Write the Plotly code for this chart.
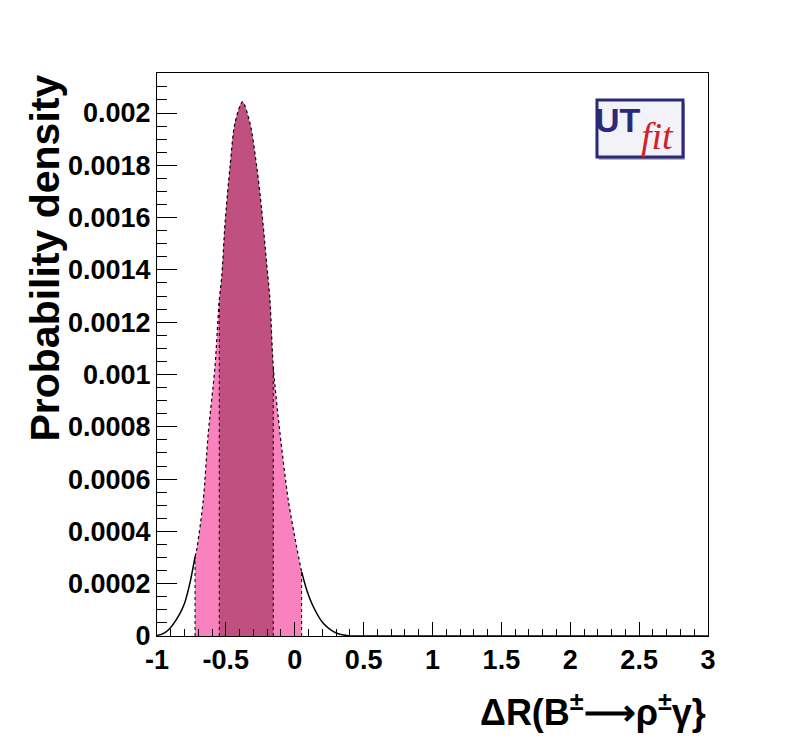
import numpy as np
import plotly.graph_objects as go

# Probability density
x_vals = [-1.0, -0.96, -0.918, -0.84, -0.80, -0.76, -0.724, -0.712, -0.664, -0.628, -0.579,
          -0.548, -0.530, -0.506, -0.470, -0.434, -0.379, -0.325, -0.276, -0.240, -0.204,
          -0.180, -0.156, -0.107, -0.047, 0.014, 0.050, 0.087, 0.135, 0.207, 0.305, 0.401, 3.0]
y_vals = [0.000002, 0.000008, 0.0000229, 0.00008, 0.000125, 0.000205, 0.000303, 0.000329, 0.00052, 0.000775, 0.00103,
          0.001285, 0.001374, 0.001579, 0.001795, 0.001962, 0.002043, 0.001961, 0.001795, 0.001629, 0.001425,
          0.001285, 0.00103, 0.000775, 0.00052, 0.00034, 0.000245, 0.000176, 0.000112, 0.0000486, 0.0000103, 0.0, 0.0]

interval_95 = [-0.724, 0.050]
interval_68 = [-0.548, -0.156]

x_tickvals = [-1, -0.5, 0, 0.5, 1, 1.5, 2, 2.5, 3]
x_ticktext = ["-1", "-0.5", "0", "0.5", "1", "1.5", "2", "2.5", "3"]
y_tickvals = [0, 0.0002, 0.0004, 0.0006, 0.0008, 0.001, 0.0012, 0.0014, 0.0016, 0.0018, 0.002]
y_ticktext = ["0", "0.0002", "0.0004", "0.0006", "0.0008", "0.001", "0.0012", "0.0014", "0.0016", "0.0018", "0.002"]

LIGHT = "#f882bd"
DARK = "#c0507f"

xa = np.array(x_vals)
ya = np.array(y_vals)


def subset(lo, hi):
    m = (xa >= lo - 1e-9) & (xa <= hi + 1e-9)
    return xa[m], ya[m]


fig = go.Figure()

# filled bands
for (lo, hi), col in [(interval_95, LIGHT), (interval_68, DARK)]:
    sx, sy = subset(lo, hi)
    fig.add_trace(go.Scatter(x=sx, y=sy, mode="lines", line=dict(width=0, shape="spline", smoothing=0.8),
                             fill="tozeroy", fillcolor=col, hoverinfo="skip", showlegend=False))

# dotted outline of the band
sx, sy = subset(*interval_95)
fig.add_trace(go.Scatter(x=sx, y=sy, mode="lines",
                         line=dict(color="black", width=1.2, dash="dot", shape="spline", smoothing=0.8),
                         showlegend=False))
for b in interval_95 + interval_68:
    yb = ya[np.argmin(np.abs(xa - b))]
    fig.add_trace(go.Scatter(x=[b, b], y=[0, yb], mode="lines",
                             line=dict(color="black", width=1, dash="dot"), showlegend=False))

# solid curve outside the 95% band
lx, ly = subset(-1.0, interval_95[0])
fig.add_trace(go.Scatter(x=lx, y=ly, mode="lines",
                         line=dict(color="black", width=1.5, shape="spline", smoothing=0.8), showlegend=False))
rx, ry = subset(interval_95[1], 0.401)
fig.add_trace(go.Scatter(x=rx, y=ry, mode="lines",
                         line=dict(color="black", width=1.5, shape="spline", smoothing=0.8), showlegend=False))
tx, ty = subset(0.401, 3.0)
fig.add_trace(go.Scatter(x=tx, y=ty, mode="lines", line=dict(color="black", width=1.5), showlegend=False))

FONT = "Liberation Sans, Arial, sans-serif"

fig.update_layout(
    width=780, height=741,
    margin=dict(l=149, r=80, t=65, b=113),
    paper_bgcolor="white", plot_bgcolor="white",
    xaxis=dict(range=[-1, 3], tickvals=x_tickvals, ticktext=x_ticktext,
               ticks="inside", ticklen=14, tickwidth=1, tickcolor="black",
               minor=dict(dtick=0.1, ticks="inside", ticklen=7, tickcolor="black", tickwidth=1),
               showgrid=False, zeroline=False, showline=True, linecolor="black", linewidth=1, mirror=True,
               tickfont=dict(family=FONT, size=27, color="black", weight="bold")),
    yaxis=dict(range=[0, 0.002153], tickvals=y_tickvals, ticktext=y_ticktext,
               ticks="inside", ticklen=20, tickwidth=1, tickcolor="black",
               minor=dict(dtick=0.00005, ticks="inside", ticklen=10, tickcolor="black", tickwidth=1),
               showgrid=False, zeroline=False, showline=True, linecolor="black", linewidth=1, mirror=True,
               tickfont=dict(family=FONT, size=27, color="black", weight="bold")),
)

# axis titles
fig.add_annotation(xref="paper", yref="paper", x=-0.205, y=1.0, xanchor="center", yanchor="top",
                   textangle=-90, showarrow=False,
                   text="Probability density",
                   font=dict(family=FONT, size=41, color="black", weight="bold"))
fig.add_annotation(xref="paper", yref="paper", x=1.0, y=-0.132, xanchor="right", yanchor="middle",
                   showarrow=False,
                   text="ΔR(B<sup>±</sup>⟶ρ<sup>±</sup>γ}",
                   font=dict(family=FONT, size=36, color="black", weight="bold"))

# UTfit logo
fig.add_shape(type="rect", xref="paper", yref="paper", x0=0.802, x1=0.958, y0=0.846, y1=0.947,
              fillcolor="#9a9ab0", line=dict(width=0), layer="above")
fig.add_shape(type="rect", xref="paper", yref="paper", x0=0.7985, x1=0.9546, y0=0.851, y1=0.952,
              fillcolor="#f3f2f8", line=dict(color="#2b2a78", width=3), layer="above")
fig.add_annotation(xref="paper", yref="paper", x=0.836, y=0.916, xanchor="center", yanchor="middle",
                   showarrow=False, text="UT",
                   font=dict(family=FONT, size=34, color="#2b2a78", weight="bold"))
fig.add_annotation(xref="paper", yref="paper", x=0.908, y=0.888, xanchor="center", yanchor="middle",
                   showarrow=False, text="<i>fit</i>",
                   font=dict(family="Liberation Serif, Times New Roman, serif", size=38, color="#d0202a"))

fig.write_html("out.html")
